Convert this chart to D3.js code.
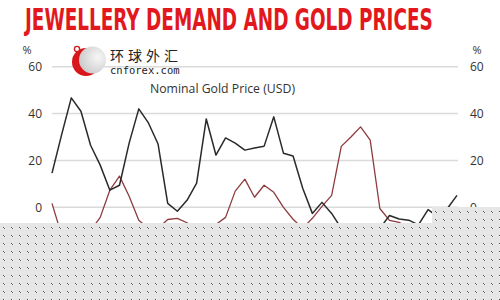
<!DOCTYPE html>
<html>
<head>
<meta charset="utf-8">
<script src="https://cdn.jsdelivr.net/npm/d3@7"></script>
<style>
  html, body { margin: 0; padding: 0; background: #fff; }
  svg { display: block; }
</style>
</head>
<body>
<div id="chart"></div>
<script>
// Annual % change, 1974–2016
const years = d3.range(1974, 2017);
const goldPrice = [14.6, 31, 46.7, 41, 26.5, 18, 7.3, 9.4, 27.4, 42, 36, 27, 1.7, -1.7, 3, 10.3,
  37.7, 22.3, 29.6, 27.4, 24.4, 25.3, 26.1, 38.6, 23.1, 21.9, 8.1, -2.6, 2.1, -2.6, -9, -14,
  -12, -10, -9, -3.5, -5, -5.5, -7.5, -1, -4, -0.5, 5.1];
const jewelleryDemand = [1.7, -12, -18, -15, -10, -4.3, 7.3, 13.3, 4.7, -5.5, -9, -9, -5.2, -4.7,
  -6.6, -10, -8, -7.3, -4.3, 6.9, 12, 4.3, 9.4, 6.4, 0, -5.1, -9, -4.7, 0.4, 5.1, 26, 30,
  34.3, 28.7, -0.5, -5.6, -6.4, -9, -8, -10, -6, -4, -2];
const yTicks = [0, 20, 40, 60];

const W = 500, H = 300;
const svg = d3.select("#chart").append("svg").attr("width", W).attr("height", H);
svg.append("rect").attr("width", W).attr("height", H).attr("fill", "#fff");

const defs = svg.append("defs");
const grad = defs.append("radialGradient").attr("id", "logoGrey")
  .attr("cx", "70%").attr("cy", "40%").attr("r", "75%");
grad.append("stop").attr("offset", "0%").attr("stop-color", "#f7f7f7");
grad.append("stop").attr("offset", "100%").attr("stop-color", "#c8c8c8");

const pat = defs.append("pattern").attr("id", "dots")
  .attr("width", 8).attr("height", 8).attr("patternUnits", "userSpaceOnUse");
pat.append("rect").attr("width", 8).attr("height", 8).attr("fill", "#e6e6e6");
pat.append("rect").attr("x", 3).attr("y", 3).attr("width", 1).attr("height", 1).attr("fill", "#444");
pat.append("rect").attr("x", 4).attr("y", 4).attr("width", 1).attr("height", 1).attr("fill", "#666");
pat.append("rect").attr("x", 4).attr("y", 3).attr("width", 1).attr("height", 1).attr("fill", "#fafafa");
pat.append("rect").attr("x", 3).attr("y", 4).attr("width", 1).attr("height", 1).attr("fill", "#fafafa");

const x = d3.scalePoint().domain(years).range([52, 457]);
const y = d3.scaleLinear().domain([0, 60]).range([207.3, 66.7]);

// Title: condensed horizontally to span 408px
const title = svg.append("text")
  .attr("x", 0).attr("y", 0)
  .attr("font-family", "'Liberation Sans Narrow', 'DejaVu Sans Condensed', sans-serif")
  .attr("font-weight", "bold").attr("font-size", 31)
  .attr("fill", "#e2181d")
  .text("JEWELLERY DEMAND AND GOLD PRICES");
const titleLen = title.node().getComputedTextLength();
title.attr("transform", `translate(25,29.5) scale(${408 / titleLen},1)`);

// Gridlines
svg.append("g").selectAll("line").data(yTicks).join("line")
  .attr("x1", 52).attr("x2", 458)
  .attr("y1", d => y(d)).attr("y2", d => y(d))
  .attr("stroke", "#dadada").attr("stroke-width", 1.6);

// Axes (left and right share the same % scale)
const labelFont = "'Open Sans', 'Noto Sans', sans-serif";
const leftAxis = svg.append("g").attr("transform", "translate(46,0)")
  .call(d3.axisLeft(y).tickValues(yTicks).tickSize(0).tickPadding(4));
const rightAxis = svg.append("g").attr("transform", "translate(466,0)")
  .call(d3.axisRight(y).tickValues(yTicks).tickSize(0).tickPadding(4));
[leftAxis, rightAxis].forEach(g => {
  g.select(".domain").remove();
  g.selectAll("text").attr("font-family", labelFont).attr("font-size", 12).attr("fill", "#333");
});
svg.append("text").attr("x", 27).attr("y", 54).attr("text-anchor", "middle")
  .attr("font-family", labelFont).attr("font-size", 11).attr("fill", "#333").text("%");
svg.append("text").attr("x", 477).attr("y", 54).attr("text-anchor", "middle")
  .attr("font-family", labelFont).attr("font-size", 11).attr("fill", "#333").text("%");

// Logo
const logo = svg.append("g");
logo.append("circle").attr("cx", 86).attr("cy", 62).attr("r", 14).attr("fill", "#d8161c");
logo.append("circle").attr("cx", 92.5).attr("cy", 60).attr("r", 13.5).attr("fill", "url(#logoGrey)");
logo.append("circle").attr("cx", 77).attr("cy", 49).attr("r", 2.6).attr("fill", "#fff")
  .attr("stroke", "#d8161c").attr("stroke-width", 1.3);
logo.append("text").attr("x", 110).attr("y", 61)
  .attr("font-family", "'Noto Sans CJK SC', sans-serif").attr("font-size", 14)
  .attr("fill", "#222").attr("letter-spacing", 4).text("环球外汇");
logo.append("text").attr("x", 110).attr("y", 74)
  .attr("font-family", "'DejaVu Sans Mono', monospace").attr("font-size", 10.5)
  .attr("fill", "#222").text("cnforex.com");

// Series label
svg.append("text").attr("x", 150).attr("y", 93)
  .attr("font-family", labelFont).attr("font-size", 12.5).attr("fill", "#333")
  .attr("textLength", 145).attr("lengthAdjust", "spacingAndGlyphs")
  .text("Nominal Gold Price (USD)");

// Lines
const line = d3.line().x((d, i) => x(years[i])).y(d => y(d));
svg.append("path").datum(jewelleryDemand).attr("d", line)
  .attr("fill", "none").attr("stroke", "#8e3b3e").attr("stroke-width", 1.3)
  .attr("stroke-linejoin", "round");
svg.append("path").datum(goldPrice).attr("d", line)
  .attr("fill", "none").attr("stroke", "#2a2a2a").attr("stroke-width", 1.5)
  .attr("stroke-linejoin", "round");

// Dotted panel over the lower part
svg.append("path")
  .attr("d", "M0,223 H432 V207 H500 V300 H0 Z")
  .attr("fill", "url(#dots)");
</script>
</body>
</html>
